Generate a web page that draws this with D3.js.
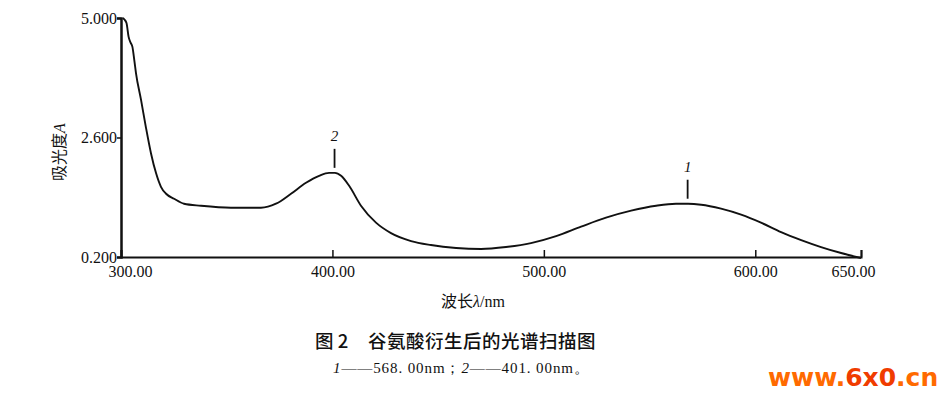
<!DOCTYPE html>
<html>
<head>
<meta charset="utf-8">
<script src="https://cdn.jsdelivr.net/npm/d3@7"></script>
<style>
  body { margin: 0; background: #fff; }
  text { fill: #111; }
  .serif { font-family: 'Liberation Serif', 'DejaVu Serif', serif; }
  .cjk { font-family: 'Noto Sans CJK SC', sans-serif; }
</style>
</head>
<body>
<div id="chart"></div>
<script>
// wavelength (nm) and absorbance
let wavelength = [300.8, 301.6, 302.6, 303.6, 304.6, 305.4, 306.3, 307.1, 309.5, 311.8, 314.2, 316.6, 318.9,
  321.3, 325.1, 329.8, 337.8, 352, 366.2, 373.3, 380.4, 387.5, 393.7, 398.4, 401.2, 404.1, 407.9,
  413.5, 420.6, 427.7, 437.2, 446.6, 458.5, 470.3, 482.1, 493.9, 505.8, 517.6, 529.4, 541.3,
  553.1, 562.5, 568.2, 574.4, 583.8, 593.3, 602.7, 612.2, 621.7, 631.1, 640.6, 650]
let absorbance = [5.0, 4.97, 4.9, 4.62, 4.5, 4.42, 4.15, 3.89, 3.35, 2.8, 2.28, 1.88, 1.61,
  1.47, 1.37, 1.27, 1.23, 1.19, 1.19, 1.27, 1.47, 1.69, 1.83, 1.89, 1.89, 1.83, 1.63,
  1.23, 0.89, 0.68, 0.52, 0.44, 0.38, 0.36, 0.4, 0.48, 0.62, 0.81, 0.99, 1.13,
  1.23, 1.27, 1.27, 1.25, 1.17, 1.05, 0.89, 0.7, 0.54, 0.4, 0.28, 0.18]

let xTicks = [300, 400, 500, 600, 650]
let yTicks = [0.2, 2.6, 5.0]

let peakLabels = ['2', '1']
let peakWavelength = [401, 568]

let margin = { top: 18, left: 121, right: 80, bottom: 141 }
let width = 941 - margin.left - margin.right
let height = 398 - margin.top - margin.bottom

let svg = d3
  .select('#chart')
  .append('svg')
  .attr('width', 941)
  .attr('height', 398)

let g = svg.append('g').attr('transform', `translate(${margin.left}, ${margin.top})`)

let xScale = d3.scaleLinear().domain([300, 650]).range([0, width])
let yScale = d3.scaleLinear().domain([0.2, 5.0]).range([height, 0])

let points = wavelength.map((w, i) => ({ w: w, a: absorbance[i] }))

// axes
let xAxis = d3.axisBottom(xScale)
  .tickValues(xTicks)
  .tickSize(-7)
  .tickFormat(d3.format('.2f'))

let xg = g.append('g')
  .attr('transform', `translate(0, ${height})`)
  .call(xAxis)
xg.select('.domain').attr('stroke', '#111').attr('stroke-width', 2)
xg.selectAll('.tick line').attr('stroke', '#111').attr('stroke-width', 1.5)
xg.selectAll('.tick text')
  .attr('class', 'serif')
  .attr('font-size', 16)
  .attr('dy', '1.05em')
  .attr('dx', d => (d === 300 ? 9 : d === 650 ? -8 : 0))

let yAxis = d3.axisLeft(yScale)
  .tickValues(yTicks)
  .tickSize(4)
  .tickFormat(d3.format('.3f'))

let yg = g.append('g').call(yAxis)
yg.select('.domain').attr('stroke', '#111').attr('stroke-width', 2.5)
yg.selectAll('.tick line').attr('stroke', '#111').attr('stroke-width', 1.5)
yg.selectAll('.tick text')
  .attr('class', 'serif')
  .attr('font-size', 16)
  .attr('x', -4)

// the spectrum
let line = d3.line()
  .x(d => xScale(d.w))
  .y(d => yScale(d.a))
  .curve(d3.curveMonotoneX)

g.append('path')
  .datum(points)
  .attr('d', line)
  .attr('fill', 'none')
  .attr('stroke', '#111')
  .attr('stroke-width', 1.9)
  .attr('stroke-linejoin', 'round')

// peak markers
let absAt = w => {
  let i = d3.bisector(d => d.w).left(points, w)
  return points[Math.min(i, points.length - 1)].a
}

let peaks = g.selectAll('.peak')
  .data(peakLabels)
  .enter()
  .append('g')
  .attr('class', 'peak')
  .attr('transform', (d, i) => `translate(${xScale(peakWavelength[i])}, ${yScale(absAt(peakWavelength[i]))})`)

peaks.append('line')
  .attr('y1', -24)
  .attr('y2', -5)
  .attr('stroke', '#111')
  .attr('stroke-width', 1.8)

peaks.append('text')
  .attr('class', 'serif')
  .attr('y', -32)
  .attr('text-anchor', 'middle')
  .attr('font-size', 15)
  .attr('font-style', 'italic')
  .text(d => d)

// axis titles
let yTitle = svg.append('text')
  .attr('class', 'cjk')
  .attr('transform', 'translate(65, 152) rotate(-90)')
  .attr('text-anchor', 'middle')
  .attr('font-size', 16)
yTitle.append('tspan').text('吸光度')
yTitle.append('tspan').attr('class', 'serif').attr('font-style', 'italic').text('A')

let xTitle = svg.append('text')
  .attr('class', 'cjk')
  .attr('x', 473)
  .attr('y', 307)
  .attr('text-anchor', 'middle')
  .attr('font-size', 16)
xTitle.append('tspan').text('波长')
xTitle.append('tspan').attr('class', 'serif').attr('font-style', 'italic').text('λ')
xTitle.append('tspan').attr('class', 'serif').text('/nm')

// caption
svg.append('text')
  .attr('class', 'cjk')
  .attr('x', 315)
  .attr('y', 348)
  .attr('font-size', 18.5)
  .attr('font-weight', 500)
  .text('图 2')

svg.append('text')
  .attr('class', 'cjk')
  .attr('x', 368)
  .attr('y', 348)
  .attr('font-size', 18.5)
  .attr('font-weight', 500)
  .attr('letter-spacing', 0.5)
  .text('谷氨酸衍生后的光谱扫描图')

let note = svg.append('text')
  .attr('class', 'serif')
  .attr('x', 333)
  .attr('y', 373)
  .attr('font-size', 15)
  .attr('letter-spacing', 0.9)
note.append('tspan').attr('font-style', 'italic').text('1')
note.append('tspan').text('——568. 00nm；')
note.append('tspan').attr('font-style', 'italic').text('2')
note.append('tspan').text('——401. 00nm。')

// watermark
let wm = svg.append('text')
  .attr('x', 768)
  .attr('y', 386)
  .attr('font-family', 'DejaVu Sans, sans-serif')
  .attr('font-weight', 'bold')
  .attr('font-size', 25)
wm.append('tspan').style('fill', '#ff6a00').text('www.')
wm.append('tspan').style('fill', '#f03c00').text('6x0')
wm.append('tspan').style('fill', '#ff6a00').text('.cn')
</script>
</body>
</html>
